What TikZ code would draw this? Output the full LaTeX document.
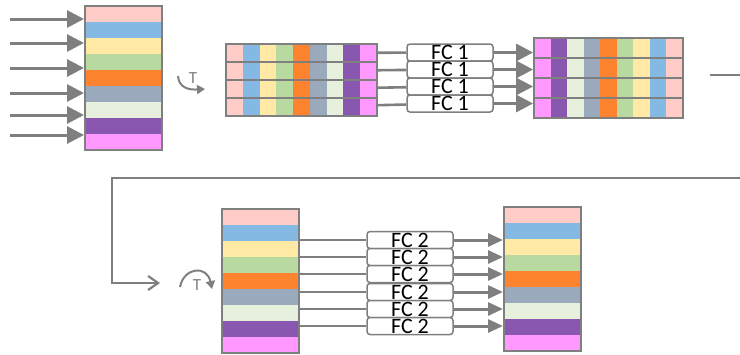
\documentclass[tikz,border=0pt]{standalone}
\usepackage{fontspec}
\setmainfont{Carlito}
\usetikzlibrary{arrows.meta}
\definecolor{lgrey}{HTML}{7F7F7F}
\definecolor{cpink}{HTML}{FFCCC7}
\definecolor{cblue}{HTML}{83B9E3}
\definecolor{cyellow}{HTML}{FFE9A4}
\definecolor{cgreen}{HTML}{B8D9A0}
\definecolor{corange}{HTML}{FD832F}
\definecolor{cslate}{HTML}{9AAABC}
\definecolor{cmint}{HTML}{E6F0DD}
\definecolor{cpurple}{HTML}{8956B0}
\definecolor{cmagenta}{HTML}{FF99FF}
\tikzset{
    cell/.style =   {rectangle,
                    draw=none,
                    inner sep=0pt,
                    outer sep=0pt},
    stripe/.style = {cell,
                    minimum width=38.5pt,
                    minimum height=8pt},
    stackbox/.style = {rectangle,
                    draw=lgrey,
                    line width=1pt,
                    inner sep=0pt,
                    minimum width=38.5pt,
                    minimum height=72pt},
    rowbox/.style = {rectangle,
                    draw=lgrey,
                    line width=0.9pt,
                    inner sep=0pt},
    fc/.style =     {rectangle,
                    rounded corners=1.5pt,
                    fill=white,
                    draw=lgrey,
                    line width=0.75pt,
                    text=black,
                    inner sep=0pt,
                    minimum width=43pt,
                    minimum height=8.5pt,
                    font=\fontsize{11}{11}\selectfont},
    tee/.style =    {inner sep=0pt,
                    text=lgrey,
                    font=\fontsize{8.5}{8.5}\selectfont},
    flow/.style =   {draw=lgrey,
                    line width=1.5pt,
                    -{Triangle[length=8.5pt,width=8.5pt]}},
    flowB/.style =  {draw=lgrey,
                    line width=1.5pt,
                    -{Triangle[length=7.5pt,width=6.5pt]}},
    link/.style =   {draw=lgrey,
                    line width=1.3pt},
    back/.style =   {draw=lgrey,
                    line width=1.1pt,
                    -{Straight Barb[length=5pt,width=7pt]}},
    turn/.style =   {draw=lgrey,
                    line width=1pt,
                    -{Triangle[length=4pt,width=4.5pt]}}}

\begin{document}
\begin{tikzpicture}[x=0.5pt,y=0.5pt]
    \useasboundingbox (0,0) rectangle (740,-354);
    \clip (0,0) rectangle (740,-354);

    % token stack
    \foreach \c [count=\i] in {cpink,cblue,cyellow,cgreen,corange,cslate,cmint,cpurple,cmagenta}
        \node[stripe,fill=\c] (tok\i) at (123.5,{-14-16*(\i-1)}) {};
    \node[stackbox] (tokens) at (123.5,-78) {};

    \coordinate     (in1) at (10,-19);
    \coordinate     (in2) at (10,-43);
    \coordinate     (in3) at (10,-68);
    \coordinate     (in4) at (10,-93);
    \coordinate     (in5) at (10,-115);
    \coordinate     (in6) at (10,-135);
    \draw[flow] (in1) -- (in1 -| tokens.west);
    \draw[flow] (in2) -- (in2 -| tokens.west);
    \draw[flow] (in3) -- (in3 -| tokens.west);
    \draw[flow] (in4) -- (in4 -| tokens.west);
    \draw[flow] (in5) -- (in5 -| tokens.west);
    \draw[flow] (in6) -- (in6 -| tokens.west);

    \coordinate     (rotA1) at (178,-76);
    \coordinate     (rotA2) at (205,-89);
    \draw[turn] (rotA1) .. controls (179,-88) and (189,-90) .. (rotA2);
    \node[tee]      (teeA) at (193,-78)         {T};

    % transposed rows before FC 1
    \foreach \c [count=\i] in {cpink,cblue,cyellow,cgreen,corange,cslate,cmint,cpurple,cmagenta}
        \node[cell,fill=\c,minimum width=8.39pt,minimum height=36pt] (colA\i) at ({226+16.78*(\i-0.5)},-80) {};
    \node[rowbox,minimum width=75.5pt,minimum height=9pt] (mixA1) at (301.5,-53)  {};
    \node[rowbox,minimum width=75.5pt,minimum height=9pt] (mixA2) at (301.5,-71)  {};
    \node[rowbox,minimum width=75.5pt,minimum height=9pt] (mixA3) at (301.5,-89)  {};
    \node[rowbox,minimum width=75.5pt,minimum height=9pt] (mixA4) at (301.5,-107) {};

    \node[fc]       (fcA1) at (450,-52.5)       {FC 1};
    \node[fc]       (fcA2) at (450,-69.5)       {FC 1};
    \node[fc]       (fcA3) at (450,-86.5)       {FC 1};
    \node[fc]       (fcA4) at (450,-103.5)      {FC 1};

    % rows after FC 1
    \foreach \c [count=\i] in {cmagenta,cpurple,cmint,cslate,corange,cgreen,cyellow,cblue,cpink}
        \node[cell,fill=\c,minimum width=8.28pt,minimum height=40pt] (colB\i) at ({534+16.56*(\i-0.5)},-78) {};
    \node[rowbox,minimum width=74.5pt,minimum height=10pt] (mixB1) at (608.5,-48)  {};
    \node[rowbox,minimum width=74.5pt,minimum height=10pt] (mixB2) at (608.5,-68)  {};
    \node[rowbox,minimum width=74.5pt,minimum height=10pt] (mixB3) at (608.5,-88)  {};
    \node[rowbox,minimum width=74.5pt,minimum height=10pt] (mixB4) at (608.5,-108) {};

    \draw[link] (mixA1) -- (fcA1);
    \draw[link] (mixA2) -- (fcA2);
    \draw[link] (mixA3) -- (fcA3);
    \draw[link] (mixA4) -- (fcA4);
    \draw[flow] (fcA1) -- (fcA1 -| mixB1.west);
    \draw[flow] (fcA2) -- (fcA2 -| mixB1.west);
    \draw[flow] (fcA3) -- (fcA3 -| mixB1.west);
    \draw[flow] (fcA4) -- (fcA4 -| mixB1.west);

    \coordinate     (loopA) at (710,-75);
    \coordinate     (loopB) at (160,-283);
    \draw[back] (loopA) -- (760,-75) |- (112,-178) |- (loopB);

    \coordinate     (rotB1) at (180,-287);
    \coordinate     (rotB2) at (212,-289);
    \draw[turn] (rotB1) .. controls (184,-267) and (207,-265) .. (rotB2);
    \node[tee]      (teeB) at (197,-285)        {T};

    % channel stack and output stack
    \foreach \c [count=\i] in {cpink,cblue,cyellow,cgreen,corange,cslate,cmint,cpurple,cmagenta} {
        \node[stripe,fill=\c] (chn\i) at (260.5,{-217-16*(\i-1)}) {};
        \node[stripe,fill=\c] (res\i) at (542.5,{-215-16*(\i-1)}) {};
    }
    \node[stackbox] (chan) at (260.5,-281)      {};
    \node[stackbox] (out) at (542.5,-279)       {};

    \node[fc]       (fcB1) at (410,-240)        {FC 2};
    \node[fc]       (fcB2) at (410,-257)        {FC 2};
    \node[fc]       (fcB3) at (410,-274)        {FC 2};
    \node[fc]       (fcB4) at (410,-292)        {FC 2};
    \node[fc]       (fcB5) at (410,-309)        {FC 2};
    \node[fc]       (fcB6) at (410,-326)        {FC 2};

    \draw[link] (chan.east |- fcB1) -- (fcB1);
    \draw[link] (chan.east |- fcB2) -- (fcB2);
    \draw[link] (chan.east |- fcB3) -- (fcB3);
    \draw[link] (chan.east |- fcB4) -- (fcB4);
    \draw[link] (chan.east |- fcB5) -- (fcB5);
    \draw[link] (chan.east |- fcB6) -- (fcB6);
    \draw[flowB] (fcB1) -- (fcB1 -| out.west);
    \draw[flowB] (fcB2) -- (fcB2 -| out.west);
    \draw[flowB] (fcB3) -- (fcB3 -| out.west);
    \draw[flowB] (fcB4) -- (fcB4 -| out.west);
    \draw[flowB] (fcB5) -- (fcB5 -| out.west);
    \draw[flowB] (fcB6) -- (fcB6 -| out.west);
\end{tikzpicture}
\end{document}
